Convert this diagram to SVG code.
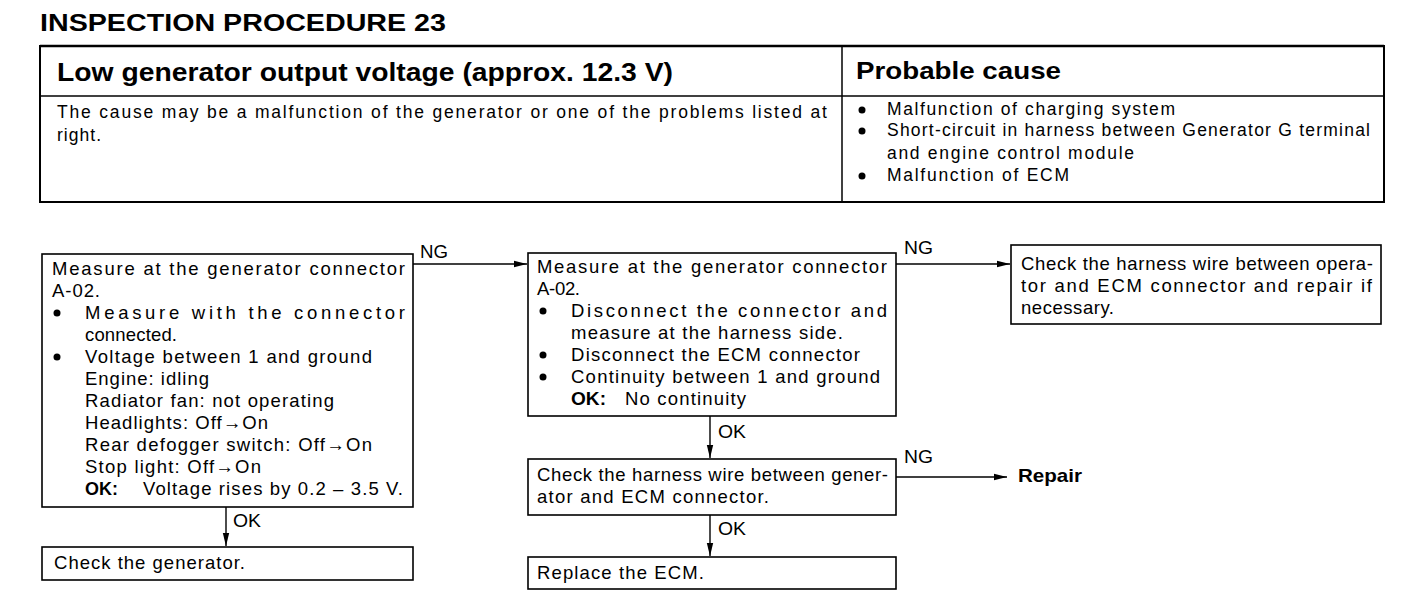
<svg xmlns="http://www.w3.org/2000/svg" width="1408" height="602" viewBox="0 0 1408 602">
<style>
text{font-family:"Liberation Sans",Arial,Helvetica,sans-serif;fill:#000}
.t{font-size:18.5px}
.s{font-size:17.5px}
.b{font-weight:bold}
.box{fill:#fff;stroke:#000;stroke-width:1.6}
.conn line{stroke:#000;stroke-width:1.4}
.dot{fill:#000}
</style>
<defs>
<marker id="ah" markerUnits="userSpaceOnUse" markerWidth="14" markerHeight="8" refX="13" refY="4" orient="auto">
<path d="M0,0.8 L13,4 L0,7.2 Z" fill="#000"/>
</marker>
</defs>
<rect width="1408" height="602" fill="#fff"/>

<text x="40" y="31" class="b" font-size="24" textLength="406" lengthAdjust="spacingAndGlyphs">INSPECTION PROCEDURE 23</text>

<g id="header">
<rect x="40" y="46" width="1344" height="156" fill="none" stroke="#000" stroke-width="2"/>
<line x1="40" y1="46" x2="1384" y2="46" stroke="#000" stroke-width="2.6"/>
<line x1="40" y1="96" x2="1384" y2="96" stroke="#000" stroke-width="1.5"/>
<line x1="842" y1="46" x2="842" y2="202" stroke="#000" stroke-width="1.5"/>
<text x="57" y="81" class="b" font-size="25" textLength="616" lengthAdjust="spacingAndGlyphs">Low generator output voltage (approx. 12.3 V)</text>
<text x="856" y="79" class="b" font-size="24" textLength="205" lengthAdjust="spacingAndGlyphs">Probable cause</text>
<text x="57" y="118" class="s" textLength="770" lengthAdjust="spacing">The cause may be a malfunction of the generator or one of the problems listed at</text>
<text x="57" y="141" class="s" textLength="44" lengthAdjust="spacing">right.</text>
<circle class="dot" cx="862" cy="110" r="3.5"/>
<text x="887" y="115" class="s" textLength="288" lengthAdjust="spacing">Malfunction of charging system</text>
<circle class="dot" cx="862" cy="131" r="3.5"/>
<text x="887" y="136" class="s" textLength="483" lengthAdjust="spacing">Short-circuit in harness between Generator G terminal</text>
<text x="887" y="159" class="s" textLength="247" lengthAdjust="spacing">and engine control module</text>
<circle class="dot" cx="862" cy="176" r="3.5"/>
<text x="887" y="181" class="s" textLength="182" lengthAdjust="spacing">Malfunction of ECM</text>
</g>

<g class="conn" id="connectors">
<line x1="413" y1="264" x2="527" y2="264" marker-end="url(#ah)"/>
<text x="420" y="258" class="t" textLength="28" lengthAdjust="spacingAndGlyphs">NG</text>
<line x1="896" y1="264" x2="1010" y2="264" marker-end="url(#ah)"/>
<text x="904" y="254" class="t" textLength="29" lengthAdjust="spacingAndGlyphs">NG</text>
<line x1="226" y1="507" x2="226" y2="546" marker-end="url(#ah)"/>
<text x="233" y="527" class="t" textLength="28" lengthAdjust="spacingAndGlyphs">OK</text>
<line x1="710" y1="416" x2="710" y2="458" marker-end="url(#ah)"/>
<text x="718" y="438" class="t" textLength="28" lengthAdjust="spacingAndGlyphs">OK</text>
<line x1="710" y1="515" x2="710" y2="556" marker-end="url(#ah)"/>
<text x="718" y="535" class="t" textLength="28" lengthAdjust="spacingAndGlyphs">OK</text>
<line x1="896" y1="477" x2="1007" y2="477" marker-end="url(#ah)"/>
<text x="904" y="463" class="t" textLength="29" lengthAdjust="spacingAndGlyphs">NG</text>
</g>

<g id="n1">
<rect class="box" x="42" y="254" width="371" height="253"/>
<text x="52" y="275" class="t" textLength="353" lengthAdjust="spacing">Measure at the generator connector</text>
<text x="52" y="297" class="t" textLength="48" lengthAdjust="spacing">A-02.</text>
<circle class="dot" cx="57" cy="313" r="3.5"/>
<text x="85" y="319" class="t" textLength="320" lengthAdjust="spacing">Measure with the connector</text>
<text x="85" y="341" class="t" textLength="92" lengthAdjust="spacing">connected.</text>
<circle class="dot" cx="57" cy="357" r="3.5"/>
<text x="85" y="363" class="t" textLength="287" lengthAdjust="spacing">Voltage between 1 and ground</text>
<text x="85" y="385" class="t" textLength="124" lengthAdjust="spacing">Engine: idling</text>
<text x="85" y="407" class="t" textLength="249" lengthAdjust="spacing">Radiator fan: not operating</text>
<text x="85" y="429" class="t" textLength="183" lengthAdjust="spacing">Headlights: Off→On</text>
<text x="85" y="451" class="t" textLength="287" lengthAdjust="spacing">Rear defogger switch: Off→On</text>
<text x="85" y="473" class="t" textLength="176" lengthAdjust="spacing">Stop light: Off→On</text>
<text x="85" y="495" class="t b" textLength="33" lengthAdjust="spacingAndGlyphs">OK:</text>
<text x="143" y="495" class="t" textLength="260" lengthAdjust="spacing">Voltage rises by 0.2 – 3.5 V.</text>
</g>

<g id="n2">
<rect class="box" x="528" y="253" width="368" height="163"/>
<text x="537" y="273" class="t" textLength="350" lengthAdjust="spacing">Measure at the generator connector</text>
<text x="537" y="295" class="t" textLength="43" lengthAdjust="spacing">A-02.</text>
<circle class="dot" cx="543" cy="311" r="3.5"/>
<text x="571" y="317" class="t" textLength="316" lengthAdjust="spacing">Disconnect the connector and</text>
<text x="571" y="339" class="t" textLength="272" lengthAdjust="spacing">measure at the harness side.</text>
<circle class="dot" cx="543" cy="355" r="3.5"/>
<text x="571" y="361" class="t" textLength="289" lengthAdjust="spacing">Disconnect the ECM connector</text>
<circle class="dot" cx="543" cy="377" r="3.5"/>
<text x="571" y="383" class="t" textLength="309" lengthAdjust="spacing">Continuity between 1 and ground</text>
<text x="571" y="405" class="t b" textLength="35" lengthAdjust="spacingAndGlyphs">OK:</text>
<text x="625" y="405" class="t" textLength="121" lengthAdjust="spacing">No continuity</text>
</g>

<g id="n3">
<rect class="box" x="1011" y="245" width="370" height="79"/>
<text x="1021" y="270" class="t" textLength="352" lengthAdjust="spacing">Check the harness wire between opera-</text>
<text x="1021" y="292" class="t" textLength="351" lengthAdjust="spacing">tor and ECM connector and repair if</text>
<text x="1021" y="314" class="t" textLength="93" lengthAdjust="spacing">necessary.</text>
</g>

<g id="n4">
<rect class="box" x="42" y="547" width="371" height="33"/>
<text x="54" y="569" class="t" textLength="191" lengthAdjust="spacing">Check the generator.</text>
</g>

<g id="n5">
<rect class="box" x="528" y="459" width="368" height="56"/>
<text x="537" y="481" class="t" textLength="351" lengthAdjust="spacing">Check the harness wire between gener-</text>
<text x="537" y="503" class="t" textLength="232" lengthAdjust="spacing">ator and ECM connector.</text>
</g>

<g id="n6">
<rect class="box" x="528" y="557" width="368" height="32"/>
<text x="537" y="579" class="t" textLength="167" lengthAdjust="spacing">Replace the ECM.</text>
</g>

<g id="n7">
<text x="1018" y="482" class="t b" textLength="64" lengthAdjust="spacingAndGlyphs">Repair</text>
</g>
</svg>
